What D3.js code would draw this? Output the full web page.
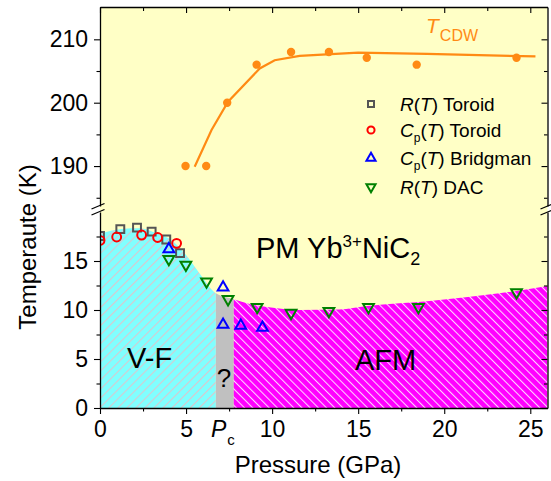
<!DOCTYPE html>
<html><head><meta charset="utf-8">
<script src="https://cdn.jsdelivr.net/npm/d3@7"></script>
<style>
html,body{margin:0;padding:0;background:#fff;}
svg{display:block;font-family:"Liberation Sans",Arial,sans-serif;}
</style></head>
<body>
<svg id="c" width="551" height="481"></svg>
<script>
// ---------------- data ----------------
const xTicksMajor = [0, 5, 10, 15, 20, 25];
const xTicksMinor = [2.5, 7.5, 12.5, 17.5, 22.5];
const yLowMajor = [0, 5, 10, 15];
const yLowMinor = [2.5, 7.5, 12.5, 17.5];
const yHighMajor = [190, 200, 210];
const yHighMinor = [185, 195, 205];

// phase boundary (P in GPa, T in K)
const boundaryP = [0, 0.7, 1.4, 2.3, 3.3, 4.25, 5.0, 5.8, 6.73, 7.77, 8.7, 9.7, 11.6, 13.9, 15.5, 19.3, 23.2, 26];
const boundaryT = [17.8, 18.1, 18.3, 18.35, 17.8, 17.0, 15.6, 13.7, 11.7, 11.1, 10.6, 10.3, 10.0, 10.05, 10.4, 10.95, 11.7, 12.45];
const regionVF = [0, 6.73];
const regionQ = [6.73, 7.77];
const regionAFM = [7.77, 26];

// R(T) Toroid
const rToroidP = [0, 1.18, 2.15, 3.0, 3.85, 4.65];
const rToroidT = [17.55, 18.25, 18.4, 18.0, 17.2, 15.8];
// Cp(T) Toroid
const cpToroidP = [0, 0.97, 2.42, 3.35, 4.45];
const cpToroidT = [17.1, 17.45, 17.65, 17.4, 16.8];
// Cp(T) Bridgman
const cpBridgP = [4.0, 7.15, 7.15, 8.18, 9.44];
const cpBridgT = [16.2, 12.3, 8.5, 8.4, 8.2];
// R(T) DAC
const rDacP = [4.0, 4.99, 6.19, 7.44, 9.13, 11.1, 13.3, 15.6, 18.5, 24.2];
const rDacT = [15.2, 14.6, 12.9, 11.1, 10.3, 9.7, 9.9, 10.3, 10.3, 11.8];
// T_CDW
const cdwP = [4.97, 6.17, 7.39, 9.1, 11.1, 13.3, 15.5, 18.4, 24.2];
const cdwT = [190, 190, 200, 206, 208, 208, 207.1, 206, 207.1];
const cdwLineP = [5.5, 6.48, 7.44, 9.28, 10.15, 11.6, 15, 19, 25.3];
const cdwLineT = [189.9, 195.7, 200.15, 205.4, 206.7, 207.4, 207.9, 207.7, 207.3];

// ---------------- layout ----------------
const L = 100, R = 547.5, T0 = 7, B = 408, breakHi = 206, breakLo = 212;
const FONT = "'Liberation Sans',Arial,sans-serif";
const svg = d3.select("#c");
const x = d3.scaleLinear().domain([0, 26]).range([L, R]);
const yLow = d3.scaleLinear().domain([0, 20]).range([B, breakLo]);
const yHigh = d3.scaleLinear().domain([183.7, 215.1]).range([breakHi, T0]);

const defs = svg.append("defs");
function hatch(id, bg, line, ang, sp) {
  const p = defs.append("pattern").attr("id", id).attr("patternUnits", "userSpaceOnUse")
    .attr("width", sp).attr("height", sp).attr("patternTransform", `rotate(${ang})`);
  p.append("rect").attr("width", sp).attr("height", sp).attr("fill", bg);
  p.append("line").attr("x1", 0.5).attr("y1", 0).attr("x2", 0.5).attr("y2", sp)
    .attr("stroke", line).attr("stroke-width", 1.1);
}
hatch("hVF", "#80ffff", "#dcc6cc", 45, 6.4);
hatch("hAFM", "#ff00ff", "#ffd6ff", -45, 5.8);
defs.append("clipPath").attr("id", "plotclip").append("rect")
  .attr("x", L).attr("y", T0).attr("width", R - L).attr("height", B - T0);

// background
svg.append("rect").attr("x", L).attr("y", T0).attr("width", R - L).attr("height", B - T0).attr("fill", "#ffffc6");

const bnd = boundaryP.map((p, i) => [p, boundaryT[i]]);
const area = d3.area().x(d => x(d[0])).y0(yLow(0)).y1(d => yLow(d[1])).curve(d3.curveMonotoneX);
function region(r, fill, id) {
  defs.append("clipPath").attr("id", id).append("rect")
    .attr("x", x(r[0])).attr("y", T0).attr("width", x(r[1]) - x(r[0])).attr("height", B - T0);
  svg.append("path").datum(bnd).attr("d", area).attr("fill", fill).attr("clip-path", `url(#${id})`);
}
region(regionVF, "url(#hVF)", "cVF");
region(regionQ, "#c0c0c0", "cQ");
region(regionAFM, "url(#hAFM)", "cAFM");

// region labels
svg.append("text").attr("x", 127).attr("y", 368).attr("font-size", 29).text("V-F");
svg.append("text").attr("x", 224).attr("y", 387).attr("font-size", 26).attr("text-anchor", "middle").text("?");
svg.append("text").attr("x", 355).attr("y", 370).attr("font-size", 29).text("AFM");
const pm = svg.append("text").attr("x", 256).attr("y", 258).attr("font-size", 29);
pm.append("tspan").text("PM Yb");
pm.append("tspan").attr("font-size", 17).attr("dy", -11).text("3+");
pm.append("tspan").attr("dy", 11).text("NiC");
pm.append("tspan").attr("font-size", 18).attr("dy", 7).text("2");

// T_CDW line and dots
const orange = "#ff8a14";
svg.append("path").datum(cdwLineP.map((p, i) => [p, cdwLineT[i]]))
  .attr("d", d3.line().x(d => x(d[0])).y(d => yHigh(d[1])))
  .attr("fill", "none").attr("stroke", orange).attr("stroke-width", 2.2);
svg.append("g").selectAll("circle").data(cdwP.map((p, i) => [p, cdwT[i]])).join("circle")
  .attr("cx", d => x(d[0])).attr("cy", d => yHigh(d[1])).attr("r", 4.2).attr("fill", orange);
const tc = svg.append("text").attr("x", 426).attr("y", 33).attr("fill", orange).attr("font-size", 21);
tc.append("tspan").attr("font-style", "italic").text("T");
tc.append("tspan").attr("font-size", 16).attr("dy", 8).attr("dx", 1).text("CDW");

// markers
const gm = svg.append("g").attr("clip-path", "url(#plotclip)");
function markers(P, Tv, type, size, color, rot) {
  gm.append("g").selectAll("path").data(P.map((p, i) => [p, Tv[i]])).join("path")
    .attr("d", d3.symbol().type(type).size(size))
    .attr("transform", d => `translate(${x(d[0])},${yLow(d[1])}) rotate(${rot})`)
    .attr("fill", "none").attr("stroke", color).attr("stroke-width", 2);
}
markers(rToroidP, rToroidT, d3.symbolSquare, 62, "#555555", 0);
markers(cpToroidP, cpToroidT, d3.symbolCircle, 62, "#ff0000", 0);
markers(rDacP, rDacT, d3.symbolTriangle, 50, "#008000", 180);
markers(cpBridgP, cpBridgT, d3.symbolTriangle, 50, "#0000ff", 0);

// legend
const legRows = [104, 130, 158, 187];
const lg = svg.append("g");
const legSym = [[d3.symbolSquare, 36, "#555555", 0], [d3.symbolCircle, 40, "#ff0000", 0],
                [d3.symbolTriangle, 36, "#0000ff", 0], [d3.symbolTriangle, 36, "#008000", 180]];
legSym.forEach((s, i) => {
  lg.append("path").attr("d", d3.symbol().type(s[0]).size(s[1]))
    .attr("transform", `translate(371,${legRows[i]}) rotate(${s[3]})`)
    .attr("fill", "none").attr("stroke", s[2]).attr("stroke-width", 2);
});
function legText(i, letter, sub, rest) {
  const t = lg.append("text").attr("x", 400).attr("y", legRows[i] + 7).attr("font-size", 19);
  t.append("tspan").attr("font-style", "italic").text(letter);
  if (sub) t.append("tspan").attr("font-size", 12).attr("dy", 5).text(sub);
  t.append("tspan").attr("dy", sub ? -5 : 0).text("(");
  t.append("tspan").attr("font-style", "italic").text("T");
  t.append("tspan").text(") " + rest);
}
legText(0, "R", null, "Toroid");
legText(1, "C", "p", "Toroid");
legText(2, "C", "p", "Bridgman");
legText(3, "R", null, "DAC");

// ---------------- axes ----------------
function styleAxis(g, fs) {
  g.selectAll("text").attr("font-size", fs).attr("font-family", FONT).attr("fill", "#000");
  g.selectAll("line").attr("stroke", "#000").attr("stroke-width", 1.1);
  g.selectAll("path.domain").attr("stroke", "#000").attr("stroke-width", 1.3);
}
// bottom
let g;
g = svg.append("g").attr("transform", `translate(0,${B})`)
  .call(d3.axisBottom(x).tickValues(xTicksMajor).tickSize(6).tickSizeOuter(0).tickPadding(7).tickFormat(d3.format("d")));
styleAxis(g, 23);
g = svg.append("g").attr("transform", `translate(0,${B})`)
  .call(d3.axisBottom(x).tickValues(xTicksMinor).tickSize(3.5).tickFormat(""));
styleAxis(g, 23); g.select(".domain").remove();
// top
g = svg.append("g").attr("transform", `translate(0,${T0})`)
  .call(d3.axisTop(x).tickValues(xTicksMajor).tickSize(-6).tickSizeOuter(0).tickFormat(""));
styleAxis(g, 23);
g = svg.append("g").attr("transform", `translate(0,${T0})`)
  .call(d3.axisTop(x).tickValues(xTicksMinor).tickSize(-4).tickFormat(""));
styleAxis(g, 23); g.select(".domain").remove();
// left & right, two segments
[[yHigh, yHighMajor, yHighMinor], [yLow, yLowMajor, yLowMinor]].forEach(([sc, maj, mn]) => {
  g = svg.append("g").attr("transform", `translate(${L},0)`)
    .call(d3.axisLeft(sc).tickValues(maj).tickSize(6).tickSizeOuter(0).tickPadding(6).tickFormat(d3.format("d")));
  styleAxis(g, 23);
  g = svg.append("g").attr("transform", `translate(${L},0)`)
    .call(d3.axisLeft(sc).tickValues(mn).tickSize(3.5).tickFormat(""));
  styleAxis(g, 23); g.select(".domain").remove();
  g = svg.append("g").attr("transform", `translate(${R},0)`)
    .call(d3.axisRight(sc).tickValues(maj).tickSize(-6).tickSizeOuter(0).tickFormat(""));
  styleAxis(g, 23);
  g = svg.append("g").attr("transform", `translate(${R},0)`)
    .call(d3.axisRight(sc).tickValues(mn).tickSize(-3.5).tickFormat(""));
  styleAxis(g, 23); g.select(".domain").remove();
});
// break marks
[L - 1.5, R].forEach(ax => {
  [breakHi, breakLo].forEach(yy => {
    svg.append("line").attr("x1", ax - 7).attr("y1", yy + 3).attr("x2", ax + 6).attr("y2", yy - 2.5)
      .attr("stroke", "#000").attr("stroke-width", 1.2);
  });
});

// Pc label
const pc = svg.append("text").attr("x", 211).attr("y", 437).attr("font-size", 23);
pc.append("tspan").attr("font-style", "italic").text("P");
pc.append("tspan").attr("font-size", 15).attr("dy", 8).attr("dx", 1).text("c");

// axis titles
svg.append("text").attr("x", 318).attr("y", 473).attr("text-anchor", "middle").attr("font-size", 24).text("Pressure (GPa)");
svg.append("text").attr("transform", "translate(36,247) rotate(-90)").attr("text-anchor", "middle")
  .attr("font-size", 24).text("Temperaute (K)");
</script>
</body></html>
